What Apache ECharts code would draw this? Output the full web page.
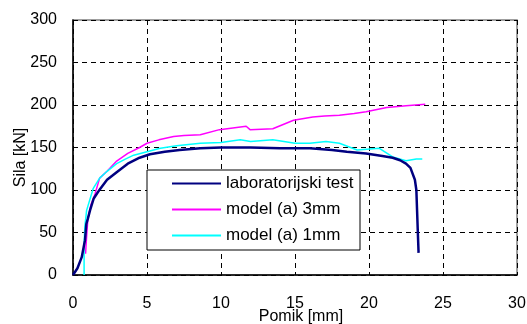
<!DOCTYPE html>
<html>
<head>
<meta charset="utf-8">
<script src="https://cdn.jsdelivr.net/npm/echarts@6/dist/echarts.min.js"></script>
<style>
  html, body { margin: 0; padding: 0; background: #fff; }
  #chart { width: 527px; height: 324px; }
</style>
</head>
<body>
<div id="chart"></div>
<script>
// podaci očitani sa slike
const labX = [0, 0.3, 0.59, 0.81, 0.9, 1.0, 1.15, 1.4, 1.82, 2.3, 2.95, 3.7, 4.5, 5.2, 6.2, 7.2, 8.6, 10, 12, 14, 16, 17.5, 18.5, 19.8, 20.9, 21.6, 22.1, 22.5, 22.8, 23.1, 23.2, 23.25, 23.3, 23.35];
const labY = [0, 8, 21, 41, 60, 66, 76, 90, 101, 112, 121, 131, 138, 142, 145, 147, 149, 150, 150, 149, 149, 147, 145, 143, 140, 138, 135, 131, 126, 112, 100, 75, 50, 26];

const m3X = [0.85, 0.9, 1.0, 1.2, 1.5, 1.8, 2.3, 2.95, 3.7, 4.5, 5, 5.8, 6.8, 7.5, 8.6, 9.9, 10.8, 11.7, 11.96, 13.5, 14.2, 14.9, 16.2, 17, 18, 19, 19.8, 21.2, 22.5, 23.8];
const m3Y = [25, 40, 65, 82, 96, 114, 122, 134, 143, 150, 155, 159, 163, 164, 165, 171, 173, 175, 171, 172, 177, 182, 186, 187, 188, 190, 192, 197, 199, 201];

const m1X = [0.75, 0.75, 0.8, 0.92, 1.37, 1.8, 2.3, 2.95, 3.5, 4.1, 5, 5.9, 7, 8.6, 10, 11.3, 12, 13.5, 15, 16, 17.1, 18, 19.2, 20.7, 21.6, 22.5, 23.2, 23.6];
const m1Y = [0, 35, 57, 76, 102, 114, 122, 131, 136, 141, 145, 149, 152, 155, 156, 159, 157, 159, 155, 155, 157, 155, 147, 149, 139, 134.5, 136.5, 136.5];

const seriesNames = ['laboratorijski test', 'model (a) 3mm', 'model (a) 1mm'];

const zip = (xs, ys) => xs.map((x, i) => [x, ys[i]]);

const myChart = echarts.init(document.getElementById('chart'));
const font = 'Liberation Sans, Arial, sans-serif';
const dashed = { show: true, lineStyle: { color: '#000', width: 1, type: [5, 4] } };

const option = {
  backgroundColor: '#fff',
  animation: false,
  grid: {
    left: 73, right: 10, top: 20, bottom: 49,
    outerBoundsMode: 'none', // v6: ne smanjuj grid zbog labela
    show: true, borderColor: '#808080', borderWidth: 1.5,
  },
  xAxis: {
    type: 'value', min: 0, max: 30, interval: 5,
    name: 'Pomik [mm]', nameLocation: 'middle', nameGap: 34, nameMoveOverlap: false,
    nameTextStyle: { fontFamily: font, fontSize: 16, color: '#000', padding: [0, 0, 0, 12] },
    axisLine: { lineStyle: { color: '#000', width: 1.5 } },
    axisTick: { show: false },
    axisLabel: { fontFamily: font, fontSize: 16, color: '#000', margin: 21 },
    splitLine: dashed,
  },
  yAxis: {
    type: 'value', min: 0, max: 300, interval: 50,
    name: 'Sila [kN]', nameLocation: 'middle', nameGap: 44, nameRotate: 90, nameMoveOverlap: false,
    nameTextStyle: { fontFamily: font, fontSize: 16, color: '#000', padding: [0, 20, 0, 0] },
    axisLine: { show: true, lineStyle: { color: '#000', width: 1.5 } },
    axisTick: { show: false },
    axisLabel: { fontFamily: font, fontSize: 16, color: '#000', margin: 16 },
    splitLine: dashed,
  },
  graphic: [{
    type: 'rect', z: 10,
    shape: { x: 147, y: 170, width: 213, height: 80 },
    style: { fill: '#fff', stroke: '#000', lineWidth: 1 },
  }],
  legend: {
    z: 20,
    orient: 'vertical', left: 147, top: 170,
    padding: [5, 4, 5, 25],
    itemGap: 9,
    icon: 'rect', itemWidth: 49, itemHeight: 2, itemTextGap: 5,
    textStyle: { fontFamily: font, fontSize: 17, color: '#000' },
    data: seriesNames,
  },
  series: [
    {
      name: seriesNames[0], type: 'line', data: zip(labX, labY),
      symbol: 'none', z: 5, color: '#000080',
      lineStyle: { color: '#000080', width: 2.5 },
    },
    {
      name: seriesNames[1], type: 'line', data: zip(m3X, m3Y),
      symbol: 'none', z: 4, color: '#ff00ff',
      lineStyle: { color: '#ff00ff', width: 1.5 },
    },
    {
      name: seriesNames[2], type: 'line', data: zip(m1X, m1Y),
      symbol: 'none', z: 4, color: '#00ffff',
      lineStyle: { color: '#00ffff', width: 1.5 },
    },
  ],
};
myChart.setOption(option);
</script>
</body>
</html>
